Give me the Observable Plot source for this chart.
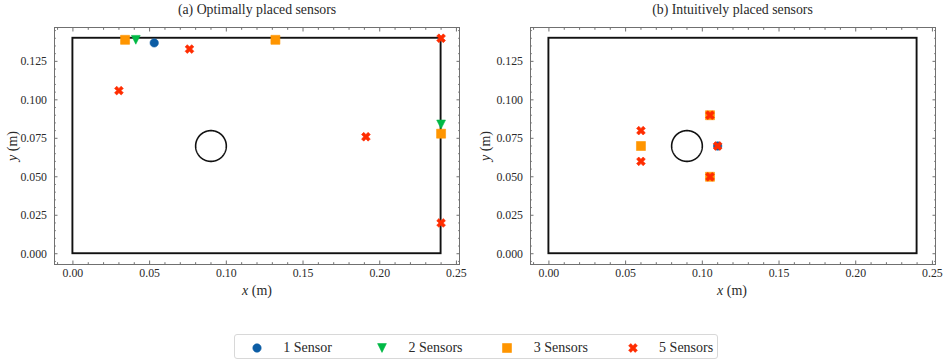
<!DOCTYPE html>
<html><head><meta charset="utf-8">
<script src="https://cdn.jsdelivr.net/npm/d3@7"></script>
<script src="https://cdn.jsdelivr.net/npm/@observablehq/plot@0.6"></script>
<style>
body{margin:0;background:#fff;}
#root{position:relative;width:947px;height:363px;font-family:"Liberation Serif",serif;color:#2a2a2a;overflow:hidden;}
#root svg, #root svg text{font-family:"Liberation Serif",serif !important;}
#root svg{font-size:11.8px !important;}
.c{position:absolute;white-space:nowrap;transform:translate(-50%,-50%);line-height:1;}
.pl{position:absolute;top:0;}
</style></head><body><div id="root"></div>
<script>
// ---- data ----
const seriesNames = ["1 Sensor", "2 Sensors", "3 Sensors", "5 Sensors"];
const seriesColors = ["#0C5DA5", "#00B945", "#FF9500", "#FF2C00"];
const panelTitles = ["(a) Optimally placed sensors", "(b) Intuitively placed sensors"];

// (a) optimally placed
const optX1 = [0.053];                       const optY1 = [0.137];
const optX2 = [0.041, 0.240];                const optY2 = [0.139, 0.084];
const optX3 = [0.034, 0.132, 0.240];         const optY3 = [0.139, 0.139, 0.078];
const optX5 = [0.030, 0.076, 0.191, 0.240, 0.240];
const optY5 = [0.106, 0.133, 0.076, 0.140, 0.020];

// (b) intuitively placed
const intX1 = [0.110];                       const intY1 = [0.070];
const intX2 = [];                            const intY2 = [];
const intX3 = [0.060, 0.105, 0.105];         const intY3 = [0.070, 0.090, 0.050];
const intX5 = [0.060, 0.060, 0.105, 0.105, 0.110];
const intY5 = [0.080, 0.060, 0.090, 0.050, 0.070];

const domainX = [0, 0.24];
const domainY = [0, 0.14];
const obstacle = {cx: 0.09, cy: 0.07, r: 0.01};

const xTicks = [0, 0.05, 0.10, 0.15, 0.20, 0.25];
const yTicks = [0, 0.025, 0.050, 0.075, 0.100, 0.125];

// ---- styles ----
const symCircle = {draw(ctx, size) { const r = Math.sqrt(size / Math.PI); ctx.moveTo(r, 0); ctx.arc(0, 0, r, 0, 2 * Math.PI); }};
const symTriDown = {draw(ctx, size) { const h = Math.sqrt(size / Math.PI); ctx.moveTo(0, h); ctx.lineTo(-h, -h); ctx.lineTo(h, -h); ctx.closePath(); }};
const symSquare = {draw(ctx, size) { const h = Math.sqrt(size / Math.PI); ctx.moveTo(-h, -h); ctx.lineTo(h, -h); ctx.lineTo(h, h); ctx.lineTo(-h, h); ctx.closePath(); }};
const xPts = [[-1,-2],[0,-1],[1,-2],[2,-1],[1,0],[2,1],[1,2],[0,1],[-1,2],[-2,1],[-1,0],[-2,-1]];
const symX = {draw(ctx, size) { const h = Math.sqrt(size / Math.PI) / 2; xPts.forEach(([a, b], i) => i ? ctx.lineTo(a * h, b * h) : ctx.moveTo(a * h, b * h)); ctx.closePath(); }};
const symbols = [symCircle, symTriDown, symSquare, symX];
const markerR = [4.2, 4.4, 4.5, 4.4];
const frameColor = "#707070";

const minorX = d3.range(-1, 26).filter(i => i % 5 !== 0).map(i => i / 100);
const minorY = d3.range(-1, 30).filter(i => i % 5 !== 0).map(i => i * 0.005);

function panel(series, width, marginLeft, marginRight) {
  const circlePts = d3.range(0, 361, 2).map(a => ({
    x: obstacle.cx + obstacle.r * Math.cos(a * Math.PI / 180),
    y: obstacle.cy + obstacle.r * Math.sin(a * Math.PI / 180)
  }));
  const marks = [
    Plot.axisX(xTicks, {anchor: "bottom", tickSize: 0, tickPadding: 4, tickFormat: d3.format(".2f"), label: null}),
    Plot.axisY(yTicks, {anchor: "left", tickSize: 0, tickPadding: 7.5, tickFormat: d3.format(".3f"), label: null}),
    Plot.axisX(xTicks, {anchor: "bottom", tickSize: -3.5, fill: "none", stroke: frameColor, label: null}),
    Plot.axisX(xTicks, {anchor: "top", tickSize: -3.5, fill: "none", stroke: frameColor, label: null}),
    Plot.axisY(yTicks, {anchor: "left", tickSize: -3.5, fill: "none", stroke: frameColor, label: null}),
    Plot.axisY(yTicks, {anchor: "right", tickSize: -3.5, fill: "none", stroke: frameColor, label: null}),
    Plot.axisX(minorX, {anchor: "bottom", tickSize: -1.8, fill: "none", stroke: frameColor, label: null}),
    Plot.axisX(minorX, {anchor: "top", tickSize: -1.8, fill: "none", stroke: frameColor, label: null}),
    Plot.axisY(minorY, {anchor: "left", tickSize: -1.8, fill: "none", stroke: frameColor, label: null}),
    Plot.axisY(minorY, {anchor: "right", tickSize: -1.8, fill: "none", stroke: frameColor, label: null}),
    Plot.frame({stroke: frameColor}),
    Plot.rect([{x1: domainX[0], x2: domainX[1], y1: domainY[0], y2: domainY[1]}],
      {x1: "x1", x2: "x2", y1: "y1", y2: "y2", fill: "none", stroke: "#111", strokeWidth: 1.9}),
    Plot.line(circlePts, {x: "x", y: "y", stroke: "#111", strokeWidth: 1.6}),
    ...series.map(([xs, ys], i) => Plot.dot(xs.map((x, j) => ({x, y: ys[j]})), {
      x: "x", y: "y", symbol: symbols[i], r: markerR[i],
      fill: seriesColors[i], stroke: seriesColors[i], strokeWidth: 0.6
    }))
  ];
  return Plot.plot({
    width, height: 300, marginLeft, marginRight, marginTop: 27, marginBottom: 36,
    x: {domain: [-0.012, 0.252]},
    y: {domain: [-0.007, 0.147]},
    style: {fontFamily: '"Liberation Serif", serif', fontSize: "11.8px", color: "#2a2a2a", background: "transparent", overflow: "visible"},
    marks
  });
}

const root = document.getElementById("root");
function addDiv(cls, html, left, top, extra) {
  const d = document.createElement("div");
  d.className = cls; d.innerHTML = html;
  d.style.left = left + "px"; d.style.top = top + "px";
  if (extra) Object.assign(d.style, extra);
  root.appendChild(d);
  return d;
}

const pa = panel([[optX1, optY1], [optX2, optY2], [optX3, optY3], [optX5, optY5]], 470, 54, 11);
const pb = panel([[intX1, intY1], [intX2, intY2], [intX3, intY3], [intX5, intY5]], 477, 60, 12);
const da = document.createElement("div"); da.className = "pl"; da.style.left = "0px"; da.appendChild(pa); root.appendChild(da);
const db = document.createElement("div"); db.className = "pl"; db.style.left = "470px"; db.appendChild(pb); root.appendChild(db);

// titles and axis labels
addDiv("c", panelTitles[0], 257, 9.5, {fontSize: "13.8px"});
addDiv("c", panelTitles[1], 732.5, 9.5, {fontSize: "13.8px"});
addDiv("c", "<i>x</i> (m)", 257, 291, {fontSize: "14px"});
addDiv("c", "<i>x</i> (m)", 732, 291, {fontSize: "14px"});
addDiv("c", "<i>y</i> (m)", 12.5, 146, {fontSize: "14px", transform: "translate(-50%,-50%) rotate(-90deg)"});
addDiv("c", "<i>y</i> (m)", 486, 146, {fontSize: "14px", transform: "translate(-50%,-50%) rotate(-90deg)"});

// legend
const leg = document.createElement("div");
Object.assign(leg.style, {position: "absolute", left: "234px", top: "334px", width: "484px", height: "25px",
  border: "1px solid #d8d8d8", borderRadius: "3px", boxSizing: "border-box"});
root.appendChild(leg);
seriesNames.forEach((name, i) => {
  const mx = 21.7 + 125.3 * i;
  const svg = d3.create("svg").attr("width", 14).attr("height", 14)
    .style("position", "absolute").style("left", (mx - 7) + "px").style("top", "5.5px");
  const p = d3.path();
  symbols[i].draw(p, Math.PI * markerR[i] * markerR[i]);
  svg.append("path").attr("transform", "translate(7,7)").attr("d", p.toString())
    .attr("fill", seriesColors[i]).attr("stroke", seriesColors[i]).attr("stroke-width", 0.6);
  leg.appendChild(svg.node());
  const t = document.createElement("div");
  t.textContent = name;
  Object.assign(t.style, {position: "absolute", left: (mx + 26.5) + "px", top: "12.5px", transform: "translateY(-50%)",
    fontSize: "14px", lineHeight: "1", whiteSpace: "nowrap"});
  leg.appendChild(t);
});
</script></body></html>
